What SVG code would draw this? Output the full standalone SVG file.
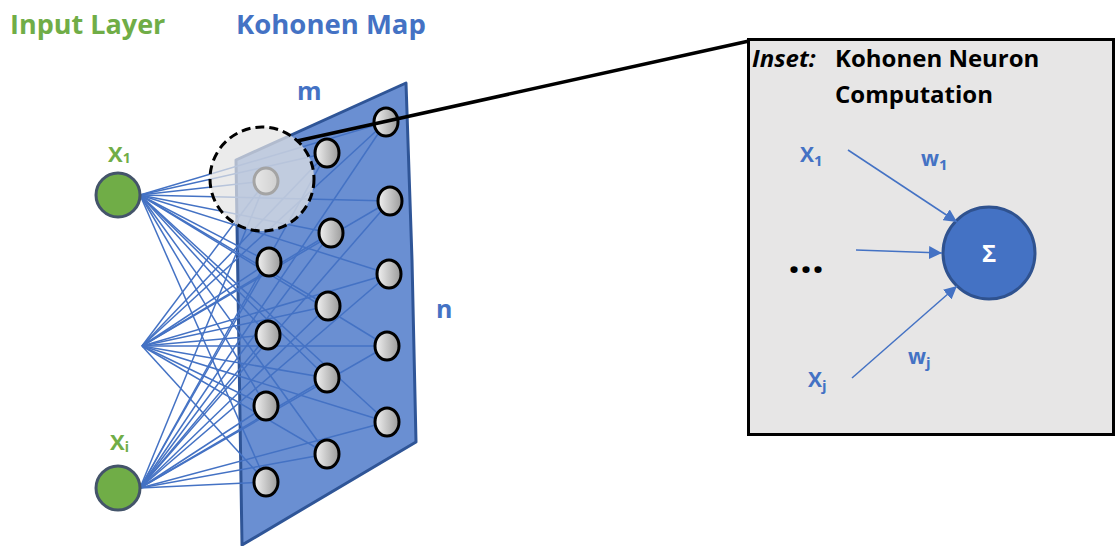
<svg xmlns="http://www.w3.org/2000/svg" width="1115" height="546" viewBox="0 0 1115 546">
<defs>
<linearGradient id="ng" x1="0" y1="0" x2="1" y2="0">
<stop offset="0" stop-color="#f2f2f2"/>
<stop offset="1" stop-color="#9a9a9a"/>
</linearGradient>
<marker id="ah2" viewBox="0 0 10 10" refX="10" refY="5" markerWidth="13" markerHeight="13" markerUnits="userSpaceOnUse" orient="auto">
<path d="M0,0 L10,5 L0,10 z" fill="#4472c4"/>
</marker>
</defs>
<style>
.t{font-family:"Open Sans","Liberation Sans",sans-serif;font-weight:bold}
.g{fill:#70ad47}
.b{fill:#4472c4}
.k{fill:#000}
.fan line{stroke:#4472c4;stroke-width:1.5}
.n{fill:url(#ng);stroke:#000;stroke-width:3}
.in{fill:#70ad47;stroke:#44546a;stroke-width:3}
.arr{stroke:#4472c4;stroke-width:1.5;marker-end:url(#ah2)}
</style>
<rect width="1115" height="546" fill="#fff"/>

<text class="t g" x="10" y="34" font-size="27">Input Layer</text>
<text class="t b" x="236" y="34" font-size="27.5">Kohonen Map</text>
<text class="t b" x="297" y="100" font-size="25">m</text>
<text class="t b" x="436" y="318" font-size="25">n</text>

<g id="map">
<polygon points="236,160 406,83 412,260 416,442 242,545" fill="#6a8fd2" stroke="#2f5597" stroke-width="3" stroke-linejoin="round"/>
</g>

<g id="connectors" class="fan">
<line x1="140" y1="195" x2="266" y2="181"/><line x1="140" y1="195" x2="269" y2="262"/><line x1="140" y1="195" x2="268" y2="335"/><line x1="140" y1="195" x2="266" y2="406"/><line x1="140" y1="195" x2="266" y2="482"/>
<line x1="140" y1="195" x2="327" y2="153"/><line x1="140" y1="195" x2="331" y2="233"/><line x1="140" y1="195" x2="328" y2="306"/><line x1="140" y1="195" x2="327" y2="378"/><line x1="140" y1="195" x2="327" y2="454"/>
<line x1="140" y1="195" x2="386" y2="122"/><line x1="140" y1="195" x2="390" y2="201"/><line x1="140" y1="195" x2="389" y2="274"/><line x1="140" y1="195" x2="387" y2="346"/><line x1="140" y1="195" x2="387" y2="422"/>
<line x1="142" y1="346" x2="266" y2="181"/><line x1="142" y1="346" x2="269" y2="262"/><line x1="142" y1="346" x2="268" y2="335"/><line x1="142" y1="346" x2="266" y2="406"/><line x1="142" y1="346" x2="266" y2="482"/>
<line x1="142" y1="346" x2="327" y2="153"/><line x1="142" y1="346" x2="331" y2="233"/><line x1="142" y1="346" x2="328" y2="306"/><line x1="142" y1="346" x2="327" y2="378"/><line x1="142" y1="346" x2="327" y2="454"/>
<line x1="142" y1="346" x2="386" y2="122"/><line x1="142" y1="346" x2="390" y2="201"/><line x1="142" y1="346" x2="389" y2="274"/><line x1="142" y1="346" x2="387" y2="346"/><line x1="142" y1="346" x2="387" y2="422"/>
<line x1="140" y1="488" x2="266" y2="181"/><line x1="140" y1="488" x2="269" y2="262"/><line x1="140" y1="488" x2="268" y2="335"/><line x1="140" y1="488" x2="266" y2="406"/><line x1="140" y1="488" x2="266" y2="482"/>
<line x1="140" y1="488" x2="327" y2="153"/><line x1="140" y1="488" x2="331" y2="233"/><line x1="140" y1="488" x2="328" y2="306"/><line x1="140" y1="488" x2="327" y2="378"/><line x1="140" y1="488" x2="327" y2="454"/>
<line x1="140" y1="488" x2="386" y2="122"/><line x1="140" y1="488" x2="390" y2="201"/><line x1="140" y1="488" x2="389" y2="274"/><line x1="140" y1="488" x2="387" y2="346"/><line x1="140" y1="488" x2="387" y2="422"/>
</g>

<g id="input-x1">
<circle class="in" cx="118" cy="195" r="22"/>
<text class="t g" x="108" y="162" font-size="22">X<tspan font-size="14" dy="1">1</tspan></text>
</g>
<g id="input-xi">
<circle class="in" cx="118" cy="488" r="22"/>
<text class="t g" x="110" y="450" font-size="22">X<tspan font-size="14" dy="2">i</tspan></text>
</g>

<g id="kohonen-nodes">
<g id="n11"><ellipse class="n" cx="266" cy="181" rx="12" ry="13" stroke="#7f7f7f"/></g>
<g id="n21"><ellipse class="n" cx="269" cy="262" rx="12" ry="14"/></g>
<g id="n31"><ellipse class="n" cx="268" cy="335" rx="12" ry="14"/></g>
<g id="n41"><ellipse class="n" cx="266" cy="406" rx="12" ry="14"/></g>
<g id="n51"><ellipse class="n" cx="266" cy="482" rx="12" ry="14"/></g>
<g id="n12"><ellipse class="n" cx="327" cy="153" rx="12" ry="14"/></g>
<g id="n22"><ellipse class="n" cx="331" cy="233" rx="12" ry="14"/></g>
<g id="n32"><ellipse class="n" cx="328" cy="306" rx="12" ry="14"/></g>
<g id="n42"><ellipse class="n" cx="327" cy="378" rx="12" ry="14"/></g>
<g id="n52"><ellipse class="n" cx="327" cy="454" rx="12" ry="14"/></g>
<g id="n13"><ellipse class="n" cx="386" cy="122" rx="12" ry="14"/></g>
<g id="n23"><ellipse class="n" cx="390" cy="201" rx="12" ry="14"/></g>
<g id="n33"><ellipse class="n" cx="389" cy="274" rx="12" ry="14"/></g>
<g id="n43"><ellipse class="n" cx="387" cy="346" rx="12" ry="14"/></g>
<g id="n53"><ellipse class="n" cx="387" cy="422" rx="12" ry="14"/></g>
</g>

<g id="highlight">
<circle cx="262" cy="179" r="52" fill="#e3e3e3" fill-opacity="0.72" stroke="#000" stroke-width="3" stroke-dasharray="9,5"/>
</g>

<g id="inset">
<rect x="748.5" y="39.5" width="365" height="395" fill="#e7e6e6" stroke="#000" stroke-width="3"/>
<text class="t k" x="752" y="67" font-size="24" font-style="italic">Inset:</text>
<text class="t k" x="835" y="67" font-size="24">Kohonen Neuron</text>
<text class="t k" x="835" y="103" font-size="24">Computation</text>
<text class="t b" x="800" y="162" font-size="21">X<tspan font-size="15" dy="4">1</tspan></text>
<text class="t b" x="921" y="166" font-size="21">w<tspan font-size="15" dy="4">1</tspan></text>
<text class="t k" x="788" y="273" font-size="42">...</text>
<text class="t b" x="808" y="387" font-size="21">X<tspan font-size="15" dy="4">j</tspan></text>
<text class="t b" x="908" y="364" font-size="21">w<tspan font-size="15" dy="4">j</tspan></text>
<g id="sum">
<circle cx="989" cy="253" r="46" fill="#4472c4" stroke="#2f528f" stroke-width="3"/>
<text class="t" x="989" y="262" font-size="24" fill="#fff" text-anchor="middle">Σ</text>
</g>
<line class="arr" x1="848" y1="150" x2="957" y2="222"/>
<line class="arr" x1="856" y1="250" x2="942" y2="253"/>
<line class="arr" x1="852" y1="378" x2="957" y2="286"/>
</g>

<line id="zoom-line" x1="297" y1="141" x2="749" y2="41" stroke="#000" stroke-width="3.5"/>
</svg>
